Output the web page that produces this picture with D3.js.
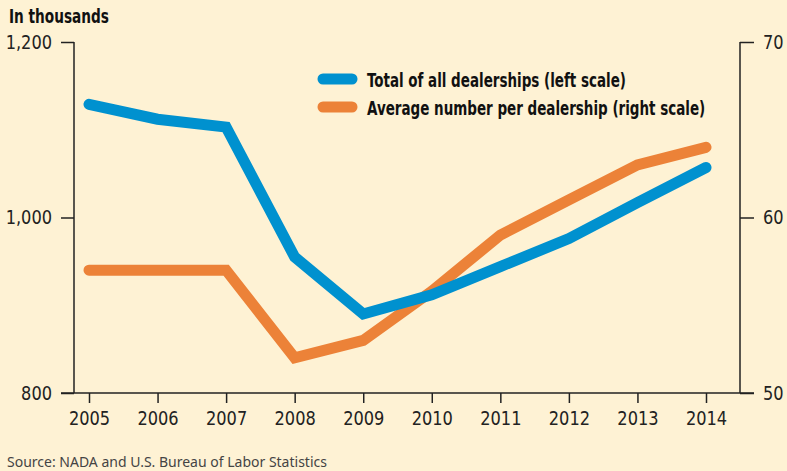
<!DOCTYPE html>
<html>
<head>
<meta charset="utf-8">
<script src="https://cdn.jsdelivr.net/npm/d3@7"></script>
<style>
	body { margin: 0; background: #fef2d4; }
	svg { display: block; }
	.cond { font-family: "Liberation Sans Narrow", "DejaVu Sans Condensed", "Roboto Condensed", sans-serif; }
</style>
</head>
<body>
<svg width="787" height="471"></svg>
<script>
var years = [2005, 2006, 2007, 2008, 2009, 2010, 2011, 2012, 2013, 2014];
// thousands, left scale
var totalDealers = [1129, 1112, 1103, 955, 890, 912, 944, 976, 1017, 1057];
// right scale
var avgPerDealer = [57.0, 57.0, 57.0, 52.0, 53.0, 55.8, 59.0, 61.0, 63.0, 64.0];
var leftTicks = [800, 1000, 1200];
var rightTicks = [50, 60, 70];
var legendLabels = ["Total of all dealerships (left scale)", "Average number per dealership (right scale)"];
var colors = ["#0091cf", "#ec8238"];

var svg = d3.select("svg");

// squeeze text horizontally around its anchor, no narrow font installed
function condense(sel, factor){
	sel.each(function(){
		var ax = +(this.getAttribute("x") || 0);
		d3.select(this)
			.attr("transform", "translate(" + ax + ",0) scale(" + factor + ",1) translate(" + (-ax) + ",0)");
	});
}

var x = d3.scalePoint()
	.domain(years)
	.range([89, 706]);

var yLeft = d3.scaleLinear()
	.domain([800, 1200])
	.range([393, 42]);

var yRight = d3.scaleLinear()
	.domain([50, 70])
	.range([393, 42]);

// left axis
var leftAxis = svg.append("g")
	.attr("transform", "translate(74,0)")
	.call(d3.axisLeft(yLeft).tickValues(leftTicks).tickSize(13).tickPadding(9).tickFormat(d3.format(",")));

// right axis
var rightAxis = svg.append("g")
	.attr("transform", "translate(740,0)")
	.call(d3.axisRight(yRight).tickValues(rightTicks).tickSize(14).tickPadding(9));

// x axis
var xAxis = svg.append("g")
	.attr("transform", "translate(0,393)")
	.call(d3.axisBottom(x).tickSize(10).tickPadding(8));

[leftAxis, rightAxis, xAxis].forEach(function(a){
	a.select(".domain").remove();
	a.selectAll("line").attr("stroke", "#222").attr("stroke-width", 1.5);
	a.selectAll("text")
		.attr("class", "cond")
		.attr("fill", "#222")
		.style("font-size", "20px")
		.call(condense, 0.9);
});

svg.append("line")
	.attr("x1", 74).attr("x2", 74).attr("y1", 42).attr("y2", 393)
	.attr("stroke", "#222").attr("stroke-width", 1.5);
svg.append("line")
	.attr("x1", 740).attr("x2", 740).attr("y1", 42).attr("y2", 393)
	.attr("stroke", "#222").attr("stroke-width", 1.5);
svg.append("line")
	.attr("x1", 61).attr("x2", 754).attr("y1", 393).attr("y2", 393)
	.attr("stroke", "#222").attr("stroke-width", 1.5);

var lineLeft = d3.line()
	.x(function(d, i){ return x(years[i]); })
	.y(function(d){ return yLeft(d); });

var lineRight = d3.line()
	.x(function(d, i){ return x(years[i]); })
	.y(function(d){ return yRight(d); });

svg.append("path")
	.datum(avgPerDealer)
	.attr("d", lineRight)
	.attr("fill", "none")
	.attr("stroke", colors[1])
	.attr("stroke-width", 11)
	.attr("stroke-linecap", "round");

svg.append("path")
	.datum(totalDealers)
	.attr("d", lineLeft)
	.attr("fill", "none")
	.attr("stroke", colors[0])
	.attr("stroke-width", 11)
	.attr("stroke-linecap", "round");

// legend
var legend = svg.append("g");
legendLabels.forEach(function(label, i){
	var ly = 79 + i * 28;
	legend.append("line")
		.attr("x1", 323).attr("x2", 352)
		.attr("y1", ly).attr("y2", ly)
		.attr("stroke", colors[i])
		.attr("stroke-width", 11)
		.attr("stroke-linecap", "round");
	legend.append("text")
		.attr("class", "cond")
		.attr("x", 367)
		.attr("y", ly + 8)
		.attr("fill", "#111")
		.style("font-size", "20px")
		.style("font-weight", "bold")
		.text(label)
		.call(condense, 0.75);
});

// title and source
svg.append("text")
	.attr("class", "cond")
	.attr("x", 9).attr("y", 23)
	.attr("fill", "#111")
	.style("font-size", "19px")
	.style("font-weight", "bold")
	.text("In thousands")
	.call(condense, 0.8);

svg.append("text")
	.attr("x", 7).attr("y", 467)
	.attr("fill", "#444")
	.style("font-family", "'Noto Sans', 'DejaVu Sans', sans-serif")
	.style("font-size", "14px")
	.text("Source: NADA and U.S. Bureau of Labor Statistics");
</script>
</body>
</html>
